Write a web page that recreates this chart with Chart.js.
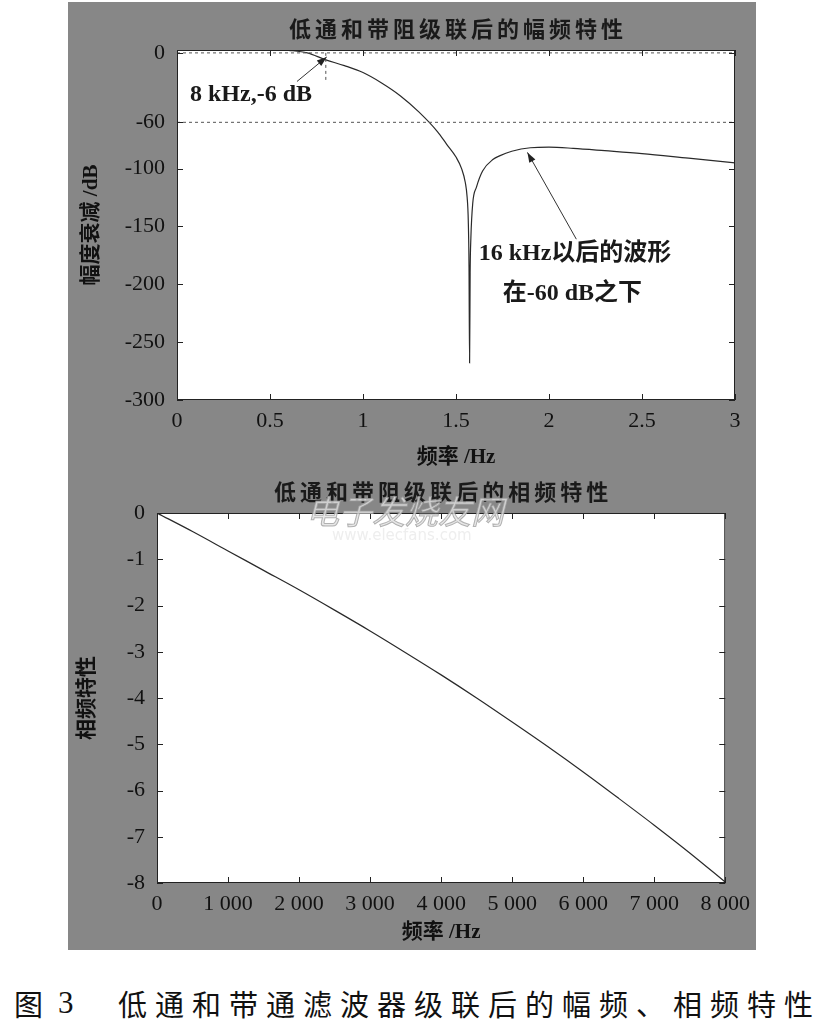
<!DOCTYPE html>
<html>
<head>
<meta charset="utf-8">
<script src="https://cdn.jsdelivr.net/npm/chart.js"></script>
<style>
  body { margin: 0; background: #fff; width: 821px; height: 1031px; position: relative; overflow: hidden; }
  #panel { position: absolute; left: 68px; top: 2px; width: 688px; height: 948px; background: #878787; }
  .box { position: absolute; left: 68px; width: 690px; height: 475px; }
  #box1 { top: 0; }
  #box2 { top: 475px; }
  #mark { position: absolute; left: 306px; top: 486px; font: 33px 'Noto Sans CJK SC'; color: rgba(225,225,225,0.8);
          -webkit-text-stroke: 1px rgba(150,150,150,0.7); font-style: italic; white-space: nowrap; }
  #url { position: absolute; left: 332px; top: 526px; font: 15px 'DejaVu Sans'; color: #eee; white-space: nowrap; }
  .cap { position: absolute; top: 985px; line-height: 36px; font-size: 29px; color: #111; white-space: nowrap; }
  #cap1 { left: 14px; font-family: 'Noto Sans CJK SC'; }
  #cap2 { left: 58px; font-family: 'Liberation Serif'; font-size: 31px; }
  #cap3 { left: 118px; font-family: 'Noto Sans CJK SC'; letter-spacing: 8px; }
</style>
</head>
<body>
<div id="panel"></div>
<div class="box" id="box1"><canvas id="magChart"></canvas></div>
<div class="box" id="box2"><canvas id="phaseChart"></canvas></div>
<div id="mark">电子发烧友网</div>
<div id="url">www.elecfans.com</div>
<div class="cap" id="cap1">图</div>
<div class="cap" id="cap2">3</div>
<div class="cap" id="cap3">低通和带通滤波器级联后的幅频、相频特性</div>
<script>
// 幅频特性 (横轴单位按原图: 0~3)
const magFreq = [0, 0.3, 0.5, 0.6, 0.7, 0.8, 0.9, 1.0, 1.1, 1.2, 1.3, 1.4, 1.45, 1.5, 1.53,
  1.55, 1.56, 1.566, 1.57, 1.573, 1.576, 1.58, 1.59, 1.61, 1.643, 1.7, 1.734, 1.8, 1.9, 2.0,
  2.13, 2.3, 2.5, 2.75, 3.0];
const magDb = [4, 4, 3.5, 2.2, 0, -6, -11, -17, -26, -37, -51, -68, -79, -90, -100,
  -112, -125, -145, -185, -268, -190, -160, -130, -116, -102, -92, -89, -85, -82, -81.5,
  -82.5, -84.5, -87, -91, -95];
const magTicksX = [0, 0.5, 1, 1.5, 2, 2.5, 3];
const magTicksY = [0, -60, -100, -150, -200, -250, -300];
const refLevels = [0, -60];       // 虚线参考电平
const markFreq = 0.8;             // 8 kHz 标记
const markSpan = [0, -25];

// 相频特性
const phaseFreq = [0, 500, 1000, 1500, 2000, 2500, 3000, 3500, 4000, 4500, 5000, 5500, 6000, 6500, 7000, 7500, 8000];
const phaseVal = [0, -0.4, -0.82, -1.24, -1.66, -2.1, -2.55, -3.02, -3.5, -4.0, -4.52, -5.05, -5.6, -6.17, -6.75, -7.35, -7.98];
const phaseTicksX = [0, 1000, 2000, 3000, 4000, 5000, 6000, 7000, 8000];
const phaseTickLabels = ['0', '1 000', '2 000', '3 000', '4 000', '5 000', '6 000', '7 000', '8 000'];
const phaseTicksY = [0, -1, -2, -3, -4, -5, -6, -7, -8];

const tickFont = { family: "'Liberation Serif', 'Noto Sans CJK SC'", size: 22 };
const axisFont = { family: "'Liberation Serif', 'Noto Sans CJK SC'", size: 21, weight: 'bold' };
const ink = '#111';

function line(ctx, x1, y1, x2, y2) {
  ctx.beginPath(); ctx.moveTo(x1, y1); ctx.lineTo(x2, y2); ctx.stroke();
}

// 白色绘图区、边框、向内刻度、标题和注释
const frame = {
  id: 'frame',
  beforeDraw(chart) {
    const { ctx, chartArea: a } = chart;
    ctx.save();
    ctx.fillStyle = '#fff';
    ctx.fillRect(a.left, a.top, a.width, a.height);
    ctx.restore();
  },
  afterDraw(chart, args, opts) {
    const { ctx, chartArea: a, scales: { x, y } } = chart;
    ctx.save();
    ctx.strokeStyle = '#222';
    ctx.lineWidth = 1;
    ctx.strokeRect(a.left + 0.5, a.top + 0.5, a.width - 1, a.height - 1);
    x.ticks.forEach(t => {
      const px = Math.round(x.getPixelForValue(t.value)) + 0.5;
      line(ctx, px, a.bottom, px, a.bottom - 6);
      line(ctx, px, a.top, px, a.top + 6);
    });
    y.ticks.forEach(t => {
      const py = Math.round(y.getPixelForValue(t.value)) + 0.5;
      line(ctx, a.left, py, a.left + 6, py);
      line(ctx, a.right, py, a.right - 6, py);
    });

    // 标题
    ctx.fillStyle = '#1a1a1a';
    ctx.font = "bold 22px 'Noto Sans CJK SC'";
    ctx.letterSpacing = '4px';
    ctx.textAlign = 'center';
    ctx.textBaseline = 'middle';
    ctx.fillText(opts.title, (a.left + a.right) / 2 + 2, opts.titleY);
    ctx.letterSpacing = '0px';

    // 注释文字
    ctx.font = "bold 24px 'Liberation Serif', 'Noto Sans CJK SC'";
    (opts.notes || []).forEach(n => {
      ctx.textAlign = n.align;
      ctx.fillText(n.text, x.getPixelForValue(n.x), y.getPixelForValue(n.y));
    });

    // 箭头
    ctx.strokeStyle = '#333';
    ctx.fillStyle = '#222';
    (opts.arrows || []).forEach(ar => {
      const x1 = x.getPixelForValue(ar.from[0]), y1 = y.getPixelForValue(ar.from[1]);
      const x2 = x.getPixelForValue(ar.to[0]), y2 = y.getPixelForValue(ar.to[1]);
      line(ctx, x1, y1, x2, y2);
      const ang = Math.atan2(y2 - y1, x2 - x1);
      ctx.beginPath();
      ctx.moveTo(x2, y2);
      ctx.lineTo(x2 - 10 * Math.cos(ang) + 3.5 * Math.sin(ang), y2 - 10 * Math.sin(ang) - 3.5 * Math.cos(ang));
      ctx.lineTo(x2 - 10 * Math.cos(ang) - 3.5 * Math.sin(ang), y2 - 10 * Math.sin(ang) + 3.5 * Math.cos(ang));
      ctx.closePath();
      ctx.fill();
    });
    ctx.restore();
  }
};

function axisX(min, max, ticks, labels, titleText, height, titlePad) {
  return {
    type: 'linear', min: min, max: max,
    afterBuildTicks: s => { s.ticks = ticks.map(v => ({ value: v })); },
    afterFit: s => { s.height = height; },
    grid: { display: false, drawTicks: false },
    border: { display: false },
    ticks: {
      padding: 8, font: tickFont, color: ink, maxRotation: 0, autoSkip: false,
      callback: (v, i) => labels ? labels[i] : String(v)
    },
    title: { display: true, text: titleText, font: axisFont, color: ink, padding: { top: 0, bottom: titlePad } }
  };
}

function axisY(min, max, ticks, titleText, width, titlePad) {
  return {
    type: 'linear', min: min, max: max,
    afterBuildTicks: s => { s.ticks = ticks.map(v => ({ value: v })); },
    afterFit: s => { s.width = width; },
    grid: { display: false, drawTicks: false },
    border: { display: false },
    ticks: { padding: 12, font: tickFont, color: ink, autoSkip: false, callback: v => String(v) },
    title: { display: true, text: titleText, font: axisFont, color: ink, padding: { top: titlePad, bottom: 0 } }
  };
}

const magData = magFreq.map((f, i) => ({ x: f, y: magDb[i] }));
const refSets = refLevels.map(v => ({
  data: [{ x: 0, y: v }, { x: 3, y: v }],
  borderColor: '#555', borderWidth: 1, borderDash: [3, 3], pointRadius: 0
}));

new Chart(document.getElementById('magChart'), {
  type: 'line',
  data: {
    datasets: [
      ...refSets,
      {
        data: [{ x: markFreq, y: markSpan[0] }, { x: markFreq, y: markSpan[1] }],
        borderColor: '#555', borderWidth: 1, borderDash: [3, 3], pointRadius: 0
      },
      {
        data: magData, borderColor: '#2a2a2a', borderWidth: 1.2, pointRadius: 0,
        cubicInterpolationMode: 'monotone'
      }
    ]
  },
  options: {
    responsive: true,
    maintainAspectRatio: false,
    animation: false,
    layout: { padding: { top: 50, right: 23, left: 0, bottom: 0 } },
    plugins: {
      legend: { display: false },
      tooltip: { enabled: false },
      frame: {
        title: '低通和带阻级联后的幅频特性', titleY: 29,
        notes: [
          { text: '8 kHz,-6 dB', x: 0.07, y: -36, align: 'left' },
          { text: '16 kHz以后的波形', x: 2.14, y: -174, align: 'center' },
          { text: '在-60 dB之下', x: 2.126, y: -208, align: 'center' }
        ],
        arrows: [
          { from: [0.645, -24.7], to: [0.805, -3.5] },
          { from: [2.147, -161], to: [1.884, -86] }
        ]
      }
    },
    scales: {
      x: axisX(0, 3, magTicksX, null, '频率 /Hz', 75, 5),
      y: axisY(-300, 2.5, magTicksY, '幅度衰减 /dB', 109, 11)
    }
  },
  plugins: [frame]
});

new Chart(document.getElementById('phaseChart'), {
  type: 'line',
  data: {
    datasets: [{
      data: phaseFreq.map((f, i) => ({ x: f, y: phaseVal[i] })),
      borderColor: '#2a2a2a', borderWidth: 1.2, pointRadius: 0,
      cubicInterpolationMode: 'monotone'
    }]
  },
  options: {
    responsive: true,
    maintainAspectRatio: false,
    animation: false,
    layout: { padding: { top: 38, right: 23, left: 0, bottom: 0 } },
    plugins: {
      legend: { display: false },
      tooltip: { enabled: false },
      frame: { title: '低通和带阻级联后的相频特性', titleY: 17 }
    },
    scales: {
      x: axisX(0, 8000, phaseTicksX, phaseTickLabels, '频率 /Hz', 67, 5),
      y: axisY(-8, 0, phaseTicksY, '相频特性', 89, 7)
    }
  },
  plugins: [frame]
});
</script>
</body>
</html>
